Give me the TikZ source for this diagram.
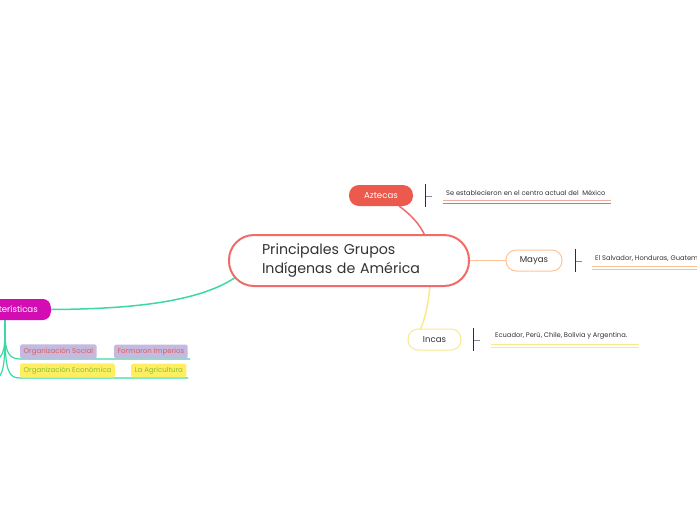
\documentclass[tikz,border=0pt]{standalone}
\usepackage{fontspec}
\setmainfont{Poppins}
\definecolor{cred}{HTML}{F26B6B}
\definecolor{azfill}{HTML}{EB5A4C}
\definecolor{maor}{HTML}{FFC397}
\definecolor{incy}{HTML}{F8EB8C}
\definecolor{navy}{HTML}{12344D}
\definecolor{tickg}{HTML}{7C8C9A}
\definecolor{ulred1}{HTML}{F5ABA3}
\definecolor{ulred2}{HTML}{F06A62}
\definecolor{ulor}{HTML}{FFC090}
\definecolor{ulye}{HTML}{F7EB8A}
\definecolor{grn}{HTML}{3DD9A3}
\definecolor{mag}{HTML}{D40CB4}
\definecolor{lav}{HTML}{C4B9DF}
\definecolor{lavtxt}{HTML}{E05A5A}
\definecolor{yel}{HTML}{FFEF60}
\definecolor{yeltxt}{HTML}{86BF38}
\definecolor{txt}{HTML}{333333}
\begin{document}
\begin{tikzpicture}[x=1pt,y=-1pt,
  mainbox/.style={draw=cred,line width=2pt,fill=white,rounded corners=25pt,
    minimum width=240pt,minimum height=51pt,inner xsep=33pt,text width=174pt,
    align=left,font=\fontsize{14.2}{19.5}\selectfont,text=txt},
  topic/.style={rounded corners=10pt,minimum height=21pt,inner xsep=0pt,
    font=\fontsize{8.6}{10}\selectfont},
  detail/.style={font=\fontsize{6.7}{8}\selectfont,text=txt,anchor=west,inner sep=0pt},
  bracket/.style={navy,line width=1pt},
  tickline/.style={tickg,line width=1pt},
  subbox/.style={rounded corners=1.5pt,minimum height=12.5pt,inner xsep=3.5pt,
    font=\fontsize{7}{7.5}\selectfont,anchor=west}
]
\useasboundingbox (0,0) rectangle (697,520);
\clip (0,0) rectangle (697,520);
\fill[white] (0,0) rectangle (697,520);

% connector end points
\coordinate (azs) at (399,206);
\coordinate (ctop) at (425,236);
\coordinate (cbot) at (430,286);
\coordinate (inct) at (420,330);
\coordinate (cleft) at (236,277);
\coordinate (magr) at (51,309.5);

\draw[cred,line width=1.5pt] (azs) .. controls (410,214) and (420,224) .. (ctop);
\draw[incy,line width=1.5pt] (cbot) .. controls (428,305) and (425,320) .. (inct);
\draw[grn,line width=1.5pt] (magr) .. controls (150,309) and (205,298) .. (cleft);

\node[mainbox] (c) at (349,260.5) {Principales Grupos\\Indígenas de América};

% topics
\node[topic,fill=azfill,text=white,minimum width=64pt] (az) at (381,195.5) {Aztecas};
\node[topic,draw=maor,line width=1pt,fill=white,text=txt,minimum width=56pt] (ma) at (534,260.5) {Mayas};
\node[topic,draw=incy,line width=1pt,fill=white,text=txt,minimum width=53pt] (in) at (434.5,339.5) {Incas};
\draw[maor,line width=1.5pt] (c.east) -- (ma.west);

% brackets and details
\coordinate (b1t) at (425,184); \coordinate (b1b) at (425,207); \coordinate (b1m) at (425,196); \coordinate (b1e) at (432,196);
\draw[tickline] (b1m) -- (b1e);
\draw[bracket] (b1t) -- (b1b);
\node[detail] (d1) at (446,193) {Se establecieron en el centro actual del \ México};
\draw[ulred1,line width=1pt] (443,200.5) -- (611,200.5);
\draw[ulred2,line width=1pt] (443,203.5) -- (611,203.5);

\coordinate (b2t) at (575,249); \coordinate (b2b) at (575,272); \coordinate (b2m) at (575,261); \coordinate (b2e) at (582,261);
\draw[tickline] (b2m) -- (b2e);
\draw[bracket] (b2t) -- (b2b);
\node[detail] (d2) at (595,258) {El Salvador, Honduras, Guatemala};
\draw[ulor,line width=1pt] (592,266) -- (700,266);
\draw[ulor,line width=1pt] (592,269) -- (700,269);

\coordinate (b3t) at (473,328); \coordinate (b3b) at (473,351); \coordinate (b3m) at (473,340); \coordinate (b3e) at (480,340);
\draw[tickline] (b3m) -- (b3e);
\draw[bracket] (b3t) -- (b3b);
\node[detail] (d3) at (495,336) {Ecuador, Perú, Chile, Bolivia y Argentina.};
\draw[ulye,line width=1pt] (491,344) -- (639,344);
\draw[ulye,line width=1pt] (491,347) -- (639,347);

% left branch
\coordinate (vt) at (5,320);
\coordinate (vs) at (5,332);
\draw[grn,line width=1.2pt] (vt) -- (vs);
\draw[grn,line width=1.2pt] (vs) .. controls (5,352) and (9,359) .. (20,359) -- (190,359);
\draw[grn,line width=1.2pt] (vs) .. controls (5,372) and (9,378) .. (20,378) -- (188,378);
\draw[grn,line width=1.2pt] (vs) .. controls (5,350) and (3,357) .. (-6,362);
\draw[grn,line width=1.2pt] (vs) .. controls (5,368) and (3,376) .. (-6,381);

\node[topic,fill=mag,text=white,anchor=east,inner xsep=13pt,rounded corners=8pt] (car) at (magr) {Características};

\node[subbox,fill=lav,text=lavtxt] (os) at (20,351.5) {Organización Social};
\node[subbox,fill=lav,text=lavtxt] (fi) at (114,351.5) {Formaron Imperios};
\node[subbox,fill=yel,text=yeltxt] (oe) at (20,370.5) {Organización Económica};
\node[subbox,fill=yel,text=yeltxt] (la) at (131,370.5) {La Agricultura};
\end{tikzpicture}
\end{document}
